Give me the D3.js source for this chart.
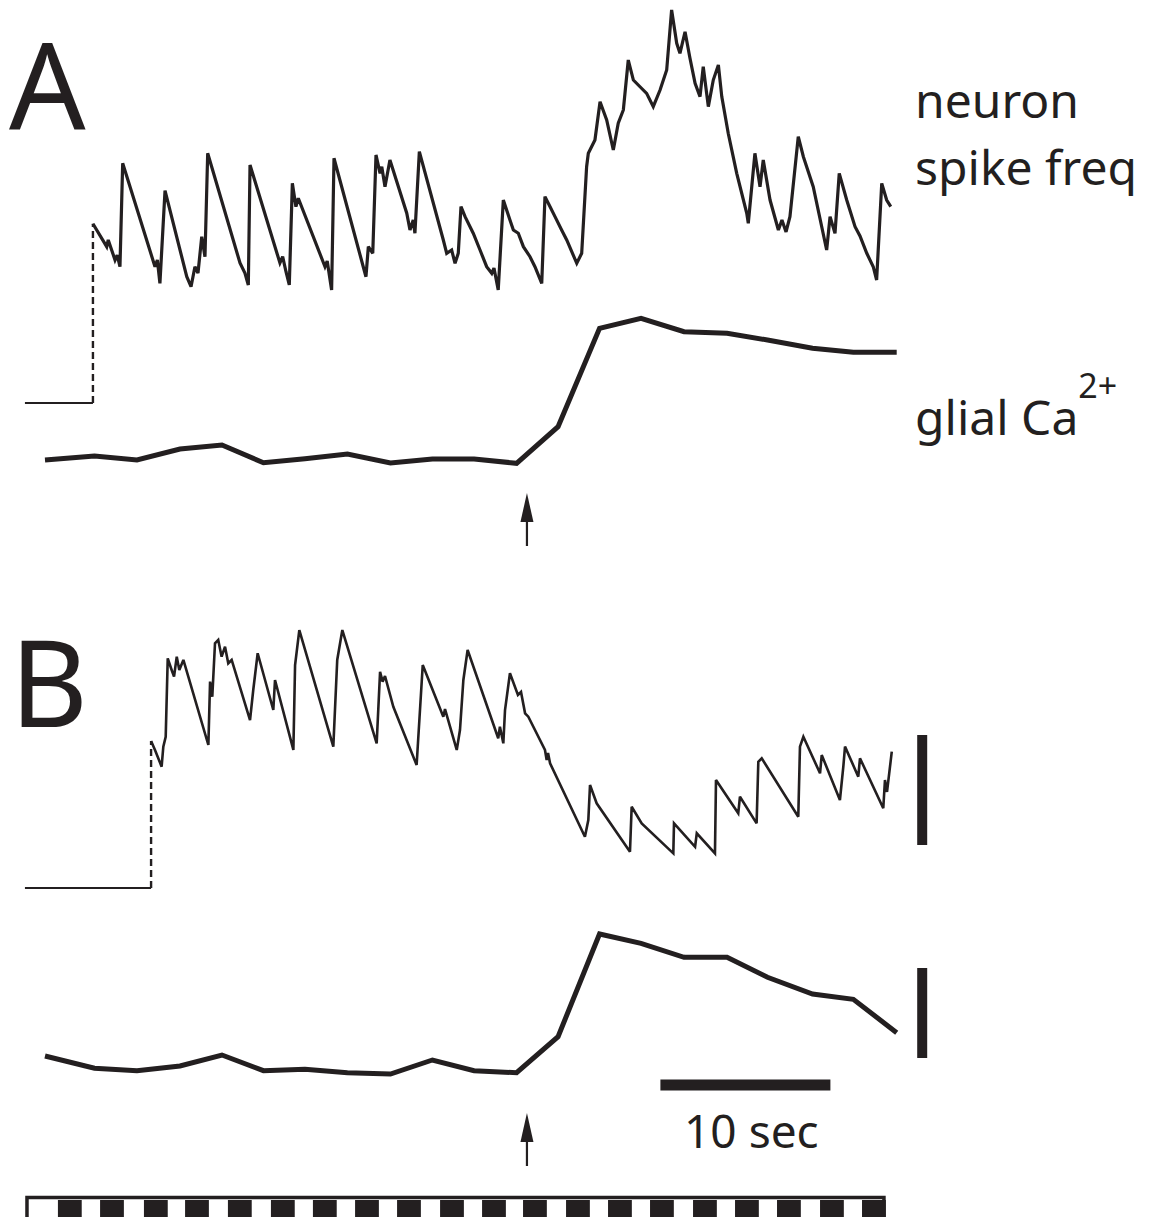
<!DOCTYPE html>
<html>
<head>
<meta charset="utf-8">
<script src="https://cdn.jsdelivr.net/npm/d3@7"></script>
<style>
  body { margin: 0; background: #fff; }
  svg { display: block; }
  text { font-family: "Noto Sans", sans-serif; fill: #231f20; }
</style>
</head>
<body>
<div id="chart"></div>
<script>
// time in seconds, spike frequency in Hz, glial Ca2+ in % dF/F
var spikeA = [
  [2.82,16.3],[3.63,14.21],[3.72,14.82],[4.12,13.0],[4.25,13.45],[4.41,12.39],[4.57,21.79],
  [6.47,12.39],[6.61,13.0],[6.76,10.88],[7.06,19.3],
  [8.34,11.48],[8.59,10.57],[8.82,12.39],[9.0,11.82],[9.22,15.12],[9.41,13.3],[9.57,22.7],
  [11.47,12.73],[11.76,11.82],[11.96,10.73],[12.06,21.64],
  [13.82,12.73],[13.98,13.3],[14.18,11.91],[14.37,10.73],[14.55,19.97],[14.76,17.85],[14.9,18.61],
  [16.47,12.39],[16.6,12.9],[16.86,10.27],[17.0,22.25],
  [18.72,12.39],[18.88,11.48],[19.02,14.21],[19.28,13.61],[19.47,22.55],[19.71,20.88],[19.81,21.48],[20.0,19.66],[20.29,22.09],
  [21.28,17.25],[21.47,15.73],[21.66,16.64],[21.76,15.43],[22.02,22.85],
  [23.43,14.82],[23.63,13.61],[23.92,13.91],[24.12,12.7],[24.31,13.61],[24.47,17.85],[24.71,16.94],[25.19,15.43],
  [25.59,13.91],[25.98,12.39],[26.28,11.79],[26.41,12.27],[26.66,10.27],[26.96,18.45],
  [27.35,16.64],[27.55,15.73],[27.84,15.43],[28.14,14.21],[28.53,13.3],[28.82,12.39],[29.22,10.88],[29.41,18.76],
  [29.71,17.85],[30.0,16.94],[30.39,15.73],[30.69,14.82],[31.28,12.7],[31.57,13.61],[31.86,21.48],[31.96,22.7],
  [32.35,23.91],[32.65,27.39],[33.04,25.73],[33.43,23.0],[33.72,25.43],[34.02,26.64],[34.31,31.18],[34.61,29.36],
  [35.0,28.75],[35.39,28.15],[35.78,26.94],[36.18,28.45],[36.57,30.27],[36.86,35.73],[37.16,32.7],[37.35,31.79],
  [37.65,33.75],[37.94,31.34],[38.24,29.06],[38.53,27.85],[38.72,30.57],[39.02,26.94],[39.31,29.36],[39.61,30.73],
  [39.81,27.85],[40.19,24.52],[40.69,20.88],[41.28,17.25],[41.37,16.34],[41.76,22.7],[42.06,19.66],[42.25,22.09],
  [42.65,18.45],[43.14,15.73],[43.35,16.64],[43.59,15.55],[43.82,16.94],[44.31,24.21],[44.61,22.39],[45.19,19.66],
  [45.98,13.91],[46.18,16.94],[46.47,15.43],[46.72,20.88],[47.16,18.45],[47.65,16.03],[47.94,15.18],[48.34,13.61],
  [48.72,12.39],[48.92,11.18],[49.22,19.97],[49.51,18.45],[49.75,17.85]
];

var spikeB = [
  [6.24,13.36],[6.47,12.55],[6.86,11.03],[6.96,12.85],[7.1,13.75],[7.22,20.88],[7.45,19.82],[7.59,19.21],
  [7.75,21.03],[7.9,19.82],[8.14,20.73],[8.43,19.21],[9.61,13.0],[9.71,18.76],[9.84,17.39],[10.0,22.25],
  [10.19,22.55],[10.39,21.03],[10.59,21.94],[10.78,20.43],[10.98,20.73],[12.06,15.27],[12.25,18.0],[12.51,21.34],
  [13.43,16.18],[13.53,18.91],[14.61,12.55],[14.71,20.27],[14.96,23.45],[16.96,12.85],[17.19,20.73],[17.49,23.45],
  [19.51,13.15],[19.71,19.66],[19.86,18.76],[20.0,19.27],[20.49,16.48],[21.86,11.18],[22.22,20.27],[23.43,15.57],
  [23.53,16.27],[24.22,12.55],[24.41,14.36],[24.61,18.91],[24.86,21.64],[26.66,13.61],[26.76,14.66],[26.96,13.15],
  [27.06,16.18],[27.35,19.52],[27.82,17.55],[28.0,17.82],[28.24,15.88],[28.43,15.57],[29.41,12.55],[29.51,11.64],
  [29.59,12.27],[29.71,11.34],[31.76,4.66],[31.96,6.18],[32.06,9.36],[32.45,7.7],[34.41,3.3],[34.51,7.39],
  [35.1,5.88],[36.96,3.15],[37.0,5.88],[38.24,3.75],[38.34,4.97],[39.41,3.15],[39.47,9.82],[40.78,6.79],
  [40.88,8.3],[41.86,5.88],[41.96,11.48],[42.16,11.79],[44.31,6.48],[44.41,12.85],[44.61,13.75],[45.59,10.43],
  [45.69,12.09],[46.76,8.0],[46.96,11.03],[47.06,12.85],[47.84,10.12],[47.94,11.79],[49.31,7.25],[49.41,9.82],
  [49.53,8.73],[49.81,12.39]
];

// imaging frames (glial samples)
var glialTimes = [0, 2.91, 5.41, 7.94, 10.41, 12.85, 15.29, 17.79, 20.32, 22.79, 25.24,
  27.74, 30.18, 32.62, 35.06, 37.59, 40.12, 42.5, 45.15, 47.55, 50.1];
var glialA = [0, 2, 0, 5.5, 7.5, -1.35, 0.65, 3, -1.5, 0.5, 0.5,
  -1.65, 16.65, 65.85, 70.85, 64.15, 63.35, 60, 55.85, 53.85, 53.85];
var glialB = [0, -6.15, -7.35, -5, 0.5, -7.35, -6.65, -8.35, -9, -2, -7.35,
  -8.35, 9.65, 61, 56.35, 49.35, 49.35, 39.35, 31, 28.35, 11.65];

// recording onset (start of dashed line) and pre-recording baseline start
var preStart = -1.18;
var onsetA = 2.82;
var onsetB = 6.24;
var stimTime = 28.35;

// frame marker bar: start of each dark block, block length
var frameStarts = [0.76, 3.24, 5.82, 8.24, 10.76, 13.29, 15.76, 18.24, 20.71, 23.24,
  25.71, 28.12, 30.65, 33.12, 35.59, 38.12, 40.59, 43.06, 45.59, 48.06];
var frameLen = 1.4;
var frameBarRange = [-1.06, 49.35];

// scale bars
var timeBar = [36.2, 46.2];      // 10 sec
var spikeBar = [3.9, 13.9];      // Hz
var glialBar = [-1, 44];         // % dF/F
var barTime = 51.6;

var ink = '#231f20';
var width = 1149, height = 1217;

var svg = d3.select('#chart')
  .append('svg')
    .attr('width', width)
    .attr('height', height);

svg.append('rect').attr('width', width).attr('height', height).attr('fill', '#fff');

var x = d3.scaleLinear().domain([0, 50]).range([45, 895]);
var yA = d3.scaleLinear().domain([0, 10]).range([403, 293]);
var yB = d3.scaleLinear().domain([0, 10]).range([888, 778]);
var gA = d3.scaleLinear().domain([0, 45]).range([460, 370]);
var gB = d3.scaleLinear().domain([0, 45]).range([1056, 966]);

function drawSpikes(data, y, onset, sw) {
  // pre-recording baseline
  svg.append('line')
    .attr('x1', x(preStart)).attr('x2', x(onset))
    .attr('y1', y(0)).attr('y2', y(0))
    .attr('stroke', ink).attr('stroke-width', 2);
  // dashed jump to first value
  svg.append('line')
    .attr('x1', x(onset)).attr('x2', x(onset))
    .attr('y1', y(0)).attr('y2', y(data[0][1]))
    .attr('stroke', ink).attr('stroke-width', 2.4)
    .attr('stroke-dasharray', '7,4');
  var line = d3.line()
    .x(function(d) { return x(d[0]); })
    .y(function(d) { return y(d[1]); });
  svg.append('path')
    .datum(data)
    .attr('d', line)
    .attr('fill', 'none')
    .attr('stroke', ink)
    .attr('stroke-width', sw)
    .attr('stroke-linejoin', 'miter')
    .attr('stroke-miterlimit', 3);
}

function drawGlial(values, g) {
  var line = d3.line()
    .x(function(d, i) { return x(glialTimes[i]); })
    .y(function(d) { return g(d); });
  svg.append('path')
    .datum(values)
    .attr('d', line)
    .attr('fill', 'none')
    .attr('stroke', ink)
    .attr('stroke-width', 5)
    .attr('stroke-linejoin', 'miter');
}

function drawArrow(yTip) {
  var cx = x(stimTime);
  svg.append('line')
    .attr('x1', cx).attr('x2', cx)
    .attr('y1', yTip + 24).attr('y2', yTip + 53)
    .attr('stroke', ink).attr('stroke-width', 2.2);
  svg.append('path')
    .attr('d', 'M' + cx + ',' + yTip + 'L' + (cx - 6.5) + ',' + (yTip + 29) + 'L' + (cx + 6.5) + ',' + (yTip + 29) + 'Z')
    .attr('fill', ink);
}

drawSpikes(spikeA, yA, onsetA, 3.2);
drawSpikes(spikeB, yB, onsetB, 2.6);
drawGlial(glialA, gA);
drawGlial(glialB, gB);
drawArrow(493);
drawArrow(1113);

// scale bars
svg.append('line')
  .attr('x1', x(timeBar[0])).attr('x2', x(timeBar[1]))
  .attr('y1', 1085).attr('y2', 1085)
  .attr('stroke', ink).attr('stroke-width', 11);
svg.append('line')
  .attr('x1', x(barTime)).attr('x2', x(barTime))
  .attr('y1', yB(spikeBar[0])).attr('y2', yB(spikeBar[1]))
  .attr('stroke', ink).attr('stroke-width', 10);
svg.append('line')
  .attr('x1', x(barTime)).attr('x2', x(barTime))
  .attr('y1', gB(glialBar[0])).attr('y2', gB(glialBar[1]))
  .attr('stroke', ink).attr('stroke-width', 10);
svg.append('text')
  .attr('x', (x(timeBar[0]) + x(timeBar[1])) / 2 + 6)
  .attr('y', 1148)
  .attr('text-anchor', 'middle')
  .attr('font-size', 46)
  .text('10 sec');

// frame marker bar
svg.append('rect')
  .attr('x', x(frameBarRange[0])).attr('y', 1197.5)
  .attr('width', x(frameBarRange[1]) - x(frameBarRange[0]))
  .attr('height', 30)
  .attr('fill', '#fff')
  .attr('stroke', ink).attr('stroke-width', 3.5);
svg.selectAll('.frame')
  .data(frameStarts)
  .enter()
  .append('rect')
    .attr('class', 'frame')
    .attr('x', function(d) { return x(d); })
    .attr('y', 1200)
    .attr('width', x(frameLen) - x(0))
    .attr('height', 20)
    .attr('fill', ink);

// labels
svg.append('text').attr('x', 9).attr('y', 130).attr('font-size', 120).text('A');
svg.append('text').attr('x', 10).attr('y', 727).attr('font-size', 120).text('B');
svg.append('text').attr('x', 915).attr('y', 118).attr('font-size', 48).text('neuron');
svg.append('text').attr('x', 915).attr('y', 185).attr('font-size', 48).text('spike freq');
var gl = svg.append('text').attr('x', 915).attr('y', 435).attr('font-size', 48);
gl.append('tspan').text('glial Ca');
gl.append('tspan').attr('dy', -37).attr('font-size', 34).text('2+');
</script>
</body>
</html>
